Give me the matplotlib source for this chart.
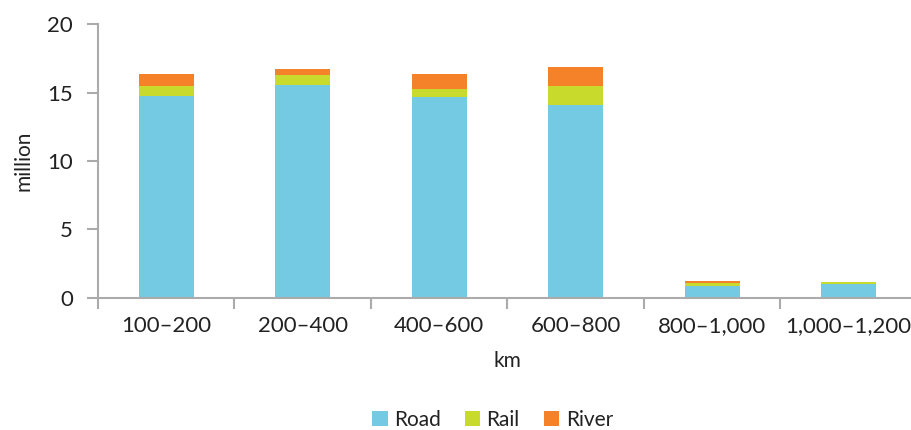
import matplotlib
matplotlib.use("Agg")
import matplotlib.pyplot as plt
from matplotlib.patches import Patch
import numpy as np

plt.rcParams['font.family'] = ['Lato', 'DejaVu Sans']

categories = ["100–200", "200–400", "400–600", "600–800", "800–1,000", "1,000–1,200"]
road = [14.78, 15.55, 14.65, 14.07, 0.86, 0.97]
rail = [0.73, 0.75, 0.59, 1.43, 0.21, 0.21]
river = [0.89, 0.40, 1.16, 1.34, 0.13, 0.0]

colors = {"Road": "#74CAE3", "Rail": "#C8DA2B", "River": "#F58229"}
axis_gray = "#ABABAB"
text_color = "#222222"

fig = plt.figure(figsize=(9.12, 4.30), dpi=100)
ax = fig.add_axes([98 / 912, (430 - 297.7) / 430, (917 - 98) / 912, (297.7 - 24.3) / 430])

x = np.arange(len(categories))
w = 0.4
road_arr = np.array(road)
rail_arr = np.array(rail)
river_arr = np.array(river)
ax.bar(x, road_arr, w, color=colors["Road"], zorder=2)
ax.bar(x, rail_arr, w, bottom=road_arr, color=colors["Rail"], zorder=2)
ax.bar(x, river_arr, w, bottom=road_arr + rail_arr, color=colors["River"], zorder=2)

ax.set_xlim(-0.5, 5.5)
ax.set_ylim(0, 20)
ax.set_yticks([0, 5, 10, 15, 20])

ax.set_xticks(x)
ax.set_xticklabels(categories)
ax.set_xticks(np.arange(-0.5, 6.0, 1.0), minor=True)
ax.tick_params(axis='x', which='major', length=0, pad=13, labelsize=16, labelcolor=text_color)
ax.tick_params(axis='x', which='minor', length=8, width=1.5, color=axis_gray, direction='out')
ax.tick_params(axis='y', length=8, width=1.5, color=axis_gray, direction='out', pad=10,
               labelsize=16, labelcolor=text_color)

for side in ['top', 'right']:
    ax.spines[side].set_visible(False)
for side in ['left', 'bottom']:
    ax.spines[side].set_color(axis_gray)
    ax.spines[side].set_linewidth(1.5)

ax.set_ylabel("million", fontsize=15, color=text_color, labelpad=10)
ax.set_xlabel("km", fontsize=15, color=text_color, labelpad=11)

handles = [Patch(facecolor=c, edgecolor='none', label=k) for k, c in colors.items()]
fig.legend(handles=handles, loc='center', bbox_to_anchor=(0.54, 0.023), ncol=3,
           frameon=False, fontsize=15, handlelength=0.75, handleheight=0.75,
           handletextpad=0.3, columnspacing=1.15, labelcolor=text_color)

fig.savefig("out.png", dpi=100)
